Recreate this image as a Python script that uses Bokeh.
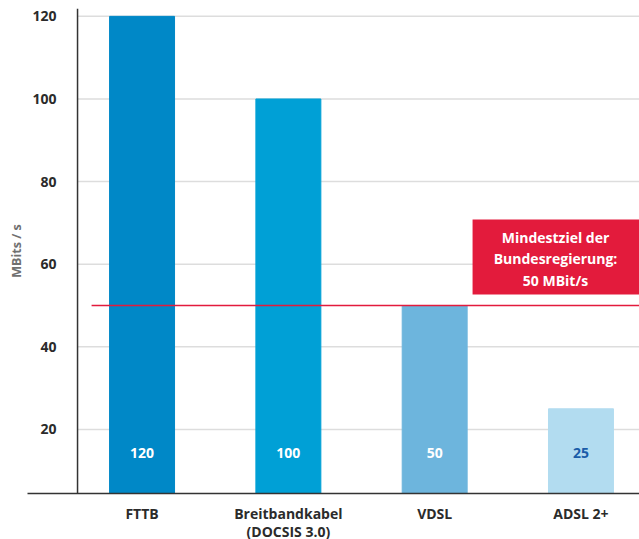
from bokeh.plotting import figure
from bokeh.models import Range1d, FixedTicker, ColumnDataSource, Span
from bokeh.core.properties import value
from bokeh.embed import file_html
from bokeh.resources import INLINE

# ---- data ----
categories = ["FTTB", "Breitbandkabel\n(DOCSIS 3.0)", "VDSL", "ADSL 2+"]
speeds = [120, 100, 50, 25]
value_labels = ["120", "100", "50", "25"]
bar_colors = ["#0088c7", "#00a0d6", "#6db5dd", "#b2dcf0"]
label_colors = ["#ffffff", "#ffffff", "#ffffff", "#1a5ca8"]
y_ticks = [20, 40, 60, 80, 100, 120]
target = 50
target_text = ["Mindestziel der", "Bundesregierung:", "50 MBit/s"]

FONT = "Open Sans"
TXT = "#2b2b2b"

xs = list(range(len(categories)))
x_start, x_end = -0.783, 3.40
y_axis_x = -0.441
y_start, y_end = 4.5, 121.9

p = figure(frame_width=612, frame_height=485, output_backend="svg",
           toolbar_location=None,
           x_range=Range1d(x_start, x_end), y_range=Range1d(y_start, y_end),
           min_border_left=27, min_border_right=0, min_border_top=8,
           min_border_bottom=46)
p.outline_line_color = None
p.background_fill_color = "white"
p.border_fill_color = "white"

# horizontal gridlines (start at the vertical axis)
p.segment(x0=y_axis_x, x1=x_end, y0=y_ticks, y1=y_ticks,
          line_color="#dddddd", line_width=1.5)

src = ColumnDataSource(dict(x=xs, top=speeds, color=bar_colors,
                            label=value_labels, lcolor=label_colors))
p.vbar(x="x", top="top", bottom=0, width=0.444, color="color", source=src)

# value labels inside bars
p.text(x="x", y=14.4, text="label", text_color="lcolor", source=src,
       text_font=value(FONT), text_font_style="bold", text_font_size="14px",
       text_align="center", text_baseline="middle")

# target line
p.segment(x0=y_axis_x + 0.096, y0=target, x1=x_end, y1=target,
          line_color="#e31b3c", line_width=1.5)

# target box
p.quad(left=2.259, right=x_end, bottom=52.7, top=70.8,
       fill_color="#e31b3c", line_color=None)
p.text(x=[2.826] * 3, y=[66.5, 61.3, 56.0], text=target_text,
       text_color="white", text_font=value(FONT), text_font_style="bold",
       text_font_size="14px", text_align="center", text_baseline="middle")

# vertical axis line
p.add_layout(Span(location=y_axis_x, dimension="height",
                  line_color="#333333", line_width=1.5))

# axes
p.xaxis.ticker = FixedTicker(ticks=xs)
p.xaxis.major_label_overrides = {i: c for i, c in zip(xs, categories)}
p.xaxis.major_tick_line_color = None
p.xaxis.minor_tick_line_color = None
p.xaxis.axis_line_color = "#333333"
p.xaxis.axis_line_width = 1.5
p.xaxis.major_label_standoff = 4
p.xaxis.major_label_text_font = FONT
p.xaxis.major_label_text_font_style = "bold"
p.xaxis.major_label_text_font_size = "14px"
p.xaxis.major_label_text_line_height = 0.95
p.xaxis.major_label_text_color = TXT

p.yaxis.ticker = FixedTicker(ticks=y_ticks)
p.yaxis.major_tick_line_color = None
p.yaxis.minor_tick_line_color = None
p.yaxis.axis_line_color = None
p.yaxis.major_label_standoff = -35
p.yaxis.major_label_text_font = FONT
p.yaxis.major_label_text_font_style = "bold"
p.yaxis.major_label_text_font_size = "14px"
p.yaxis.major_label_text_color = TXT
p.yaxis.axis_label = "MBits / s"
p.yaxis.axis_label_text_font = FONT
p.yaxis.axis_label_text_font_style = "bold"
p.yaxis.axis_label_text_font_size = "12.5px"
p.yaxis.axis_label_text_color = "#707070"
p.yaxis.axis_label_standoff = 4

p.xgrid.grid_line_color = None
p.ygrid.grid_line_color = None

open("out.html", "w").write(file_html(p, INLINE))
